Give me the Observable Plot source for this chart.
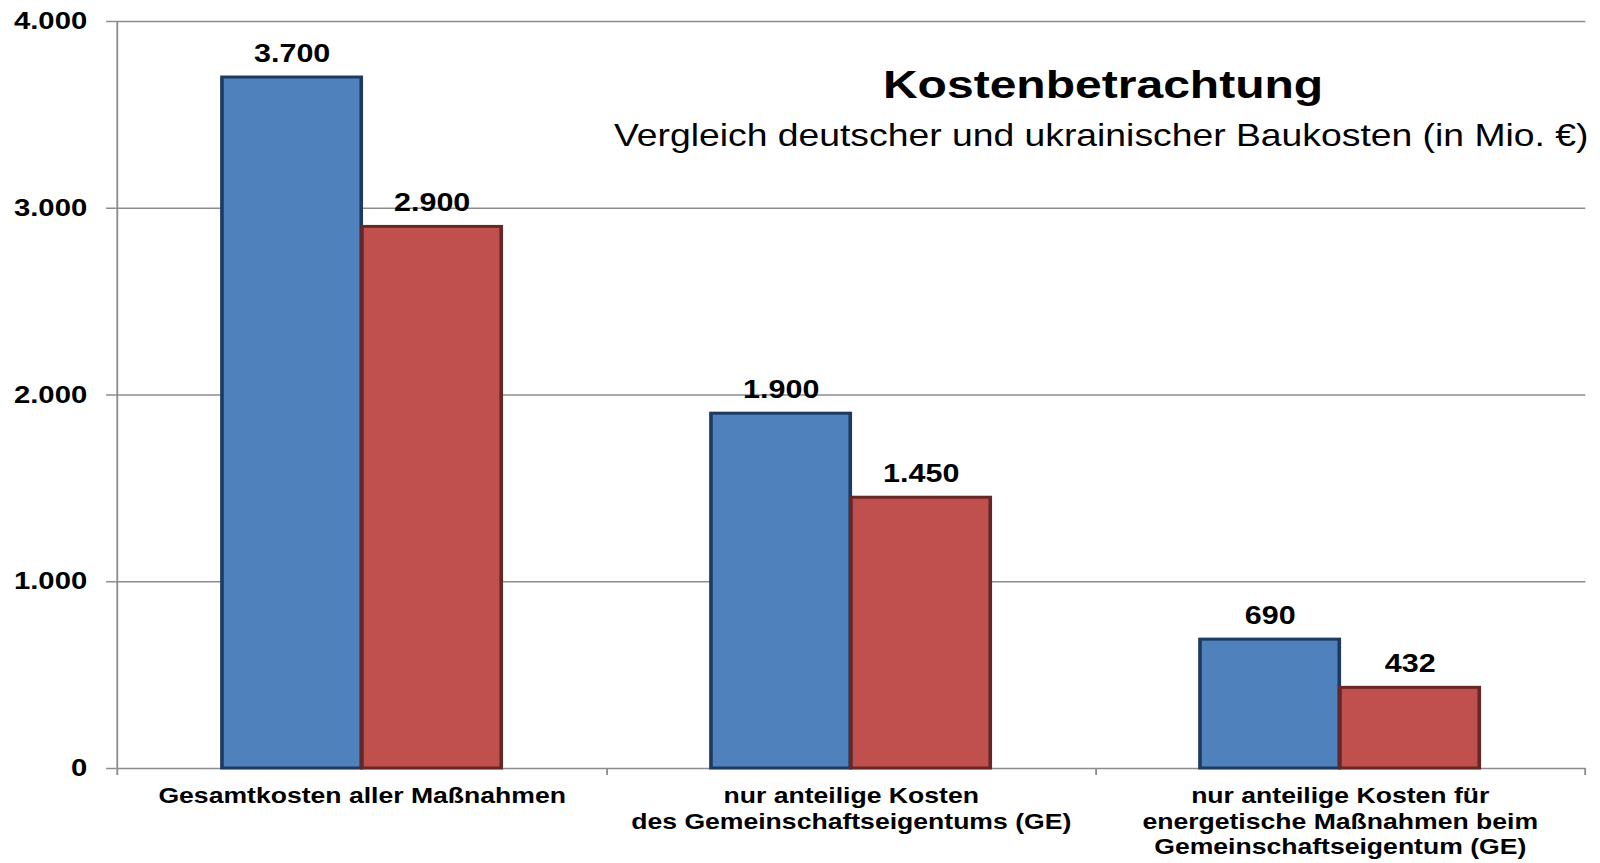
<!DOCTYPE html>
<html>
<head>
<meta charset="utf-8">
<script src="https://cdn.jsdelivr.net/npm/d3@7"></script>
<script src="https://cdn.jsdelivr.net/npm/@observablehq/plot@0.6"></script>
<style>
  html, body { margin: 0; padding: 0; background: #fff; overflow: hidden; }
  #chart svg { display: block; }
</style>
</head>
<body>
<div id="chart"></div>
<script>
// ---- data ----
const categories = [
  "Gesamtkosten aller Maßnahmen",
  "nur anteilige Kosten\ndes Gemeinschaftseigentums (GE)",
  "nur anteilige Kosten für\nenergetische Maßnahmen beim\nGemeinschaftseigentum (GE)"
];
const seriesNames = ["Deutschland", "Ukraine"];
const germanCosts = [3700, 1900, 690];
const ukrainianCosts = [2900, 1450, 432];
const yTicks = [0, 1000, 2000, 3000, 4000];
const titleText = "Kostenbetrachtung";
const subtitleText = "Vergleich deutscher und ukrainischer Baukosten (in Mio. €)";

const rows = categories.flatMap((c, i) => [
  {category: c, series: seriesNames[0], value: germanCosts[i]},
  {category: c, series: seriesNames[1], value: ukrainianCosts[i]}
]);

// ---- layout (drawn narrower, then stretched horizontally like the original) ----
const W0 = 1312, H = 863, FULLW = 1600;
const mL = 95, mR = 12, mT = 21, mB = 95;
const padInner = 0.4284, padOuter = padInner / 2;
const step = (W0 - mL - mR) / (categories.length - padInner + 2 * padOuter);
const bw = step * (1 - padInner);

const de = d3.formatLocale({decimal: ",", thousands: ".", grouping: [3], currency: ["", "€"]});
const fmt = de.format(",");

const gray = "#8c8c8c";
const blueFill = "#4F81BD", blueStroke = "#1F3A60";
const redFill = "#C0504D", redStroke = "#662826";

const svg = Plot.plot({
  width: W0,
  height: H,
  marginLeft: mL,
  marginRight: mR,
  marginTop: mT,
  marginBottom: mB,
  style: {fontFamily: "'Liberation Sans', Arial, sans-serif", background: "white", color: "black"},
  x: {type: "band", domain: categories, paddingInner: padInner, paddingOuter: padOuter, axis: null},
  y: {domain: [0, 4000], axis: null},
  marks: [
    // gridlines
    Plot.ruleY(yTicks, {stroke: gray, strokeWidth: 1.5}),
    // left axis line
    Plot.ruleX([categories[0]], {x: d => d, dx: -step / 2, stroke: gray, strokeWidth: 1.5, insetBottom: -7}),
    // category boundary ticks
    Plot.ruleX(categories, {x: d => d, dx: step / 2, y1: 0, y2: 0, insetBottom: -7, stroke: gray, strokeWidth: 1.5}),
    // y axis
    Plot.axisY(yTicks, {
      label: null,
      tickSize: 8, tickPadding: 16, tickFormat: fmt,
      stroke: gray, strokeWidth: 1.5, fill: "black",
      fontSize: 24, fontWeight: "bold"
    }),
    // bars
    Plot.barY(rows.filter(d => d.series === seriesNames[0]), {
      x: "category", y: "value", fill: blueFill, stroke: blueStroke, strokeWidth: 3,
      insetRight: bw / 2
    }),
    Plot.barY(rows.filter(d => d.series === seriesNames[1]), {
      x: "category", y: "value", fill: redFill, stroke: redStroke, strokeWidth: 3,
      insetLeft: bw / 2
    }),
    // value labels
    Plot.text(rows.filter(d => d.series === seriesNames[0]), {
      x: "category", y: "value", text: d => fmt(d.value), dx: -bw / 4, dy: -16,
      lineAnchor: "bottom", fontSize: 25, fontWeight: "bold", fill: "black"
    }),
    Plot.text(rows.filter(d => d.series === seriesNames[1]), {
      x: "category", y: "value", text: d => fmt(d.value), dx: bw / 4, dy: -16,
      lineAnchor: "bottom", fontSize: 25, fontWeight: "bold", fill: "black"
    }),
    // category labels
    Plot.text(categories, {
      x: d => d, text: d => d, frameAnchor: "bottom", lineAnchor: "top", dy: 17,
      fontSize: 21.8, fontWeight: "bold", lineHeight: 1.16, fill: "black"
    }),
    // title & subtitle
    Plot.text([titleText], {
      text: d => d, frameAnchor: "top-right", textAnchor: "middle", lineAnchor: "bottom",
      dx: -396, dy: 76, fontSize: 39.4, fontWeight: "bold", fill: "black"
    }),
    Plot.text([subtitleText], {
      text: d => d, frameAnchor: "top-right", textAnchor: "end", lineAnchor: "bottom",
      dx: 2, dy: 124, fontSize: 30.6, fill: "black"
    })
  ]
});

svg.setAttribute("width", FULLW);
svg.setAttribute("height", H);
svg.setAttribute("viewBox", `0 0 ${W0} ${H}`);
svg.setAttribute("preserveAspectRatio", "none");
svg.style.width = FULLW + "px";
svg.style.height = H + "px";
svg.style.maxWidth = "none";
document.getElementById("chart").appendChild(svg);
</script>
</body>
</html>
